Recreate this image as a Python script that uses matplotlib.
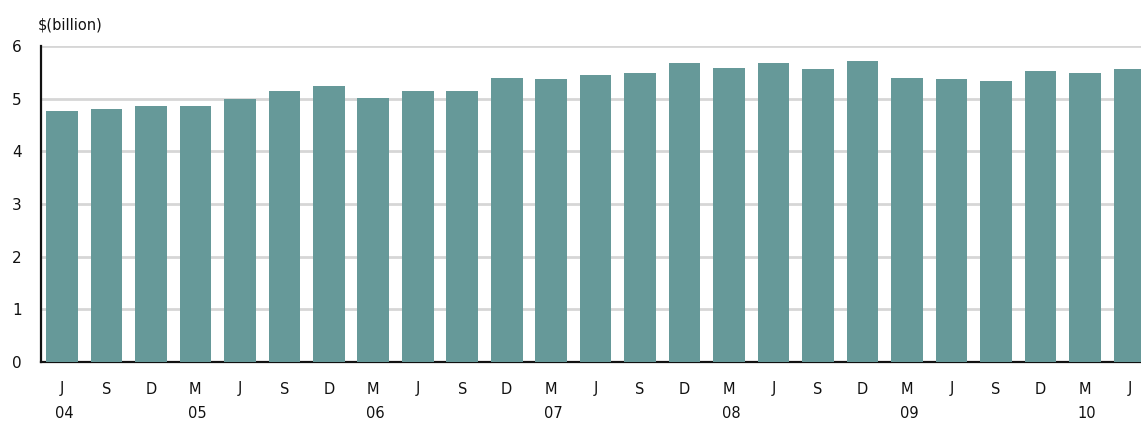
import matplotlib
matplotlib.use("Agg")
import matplotlib.pyplot as plt
import numpy as np

# quarterly values, $ billion
months = ["J", "S", "D", "M", "J", "S", "D", "M", "J", "S", "D", "M", "J",
          "S", "D", "M", "J", "S", "D", "M", "J", "S", "D", "M", "J"]
values = [4.77, 4.80, 4.87, 4.87, 5.00, 5.14, 5.25, 5.02, 5.14, 5.14, 5.40,
          5.37, 5.44, 5.48, 5.68, 5.59, 5.68, 5.56, 5.72, 5.40, 5.37, 5.33,
          5.52, 5.48, 5.56]
years = ["04", "05", "06", "07", "08", "09", "10"]
year_pos = [0, 3, 7, 11, 15, 19, 23]

plt.rcParams["font.family"] = ["DejaVu Sans"]
TXT = "#111111"

fig = plt.figure(figsize=(11.41, 4.26), dpi=100)
ax = fig.add_axes([41 / 1141, 64 / 426, 1 - 41 / 1141, 316 / 426])

x = np.arange(len(values))
ax.bar(x, values, width=0.71, color="#669999", zorder=3)

ax.set_xlim(-0.47, len(values) - 1 + 0.26)
ax.set_ylim(0, 6)
ax.set_yticks(range(0, 7))
ax.yaxis.grid(True, color="#d6d6d6", linewidth=2, zorder=0)
ax.set_axisbelow(True)

for s in ("top", "right"):
    ax.spines[s].set_visible(False)
for s in ("left", "bottom"):
    ax.spines[s].set_linewidth(1.6)
    ax.spines[s].set_color(TXT)

# month and year rows drawn as annotations below the axis
ax.set_xticks(x)
ax.set_xticklabels([])
ax.tick_params(axis="x", length=0)
ax.tick_params(axis="y", length=0, pad=14, labelsize=11, colors=TXT)

for i, m in enumerate(months):
    ax.annotate(m, xy=(i, 0), xycoords=("data", "axes fraction"),
                xytext=(0, -27), textcoords="offset pixels",
                ha="center", va="center", fontsize=10.5, color=TXT)

for yr, p in zip(years, year_pos):
    ax.annotate(yr, xy=(p + 0.05, 0), xycoords=("data", "axes fraction"),
                xytext=(0, -52), textcoords="offset pixels",
                ha="center", va="center", fontsize=10.5, color=TXT)

fig.text(38 / 1141, 1 - 25 / 426, "$(billion)", ha="left", va="center",
         fontsize=10.5, color=TXT)

fig.savefig("out.png", dpi=100)
